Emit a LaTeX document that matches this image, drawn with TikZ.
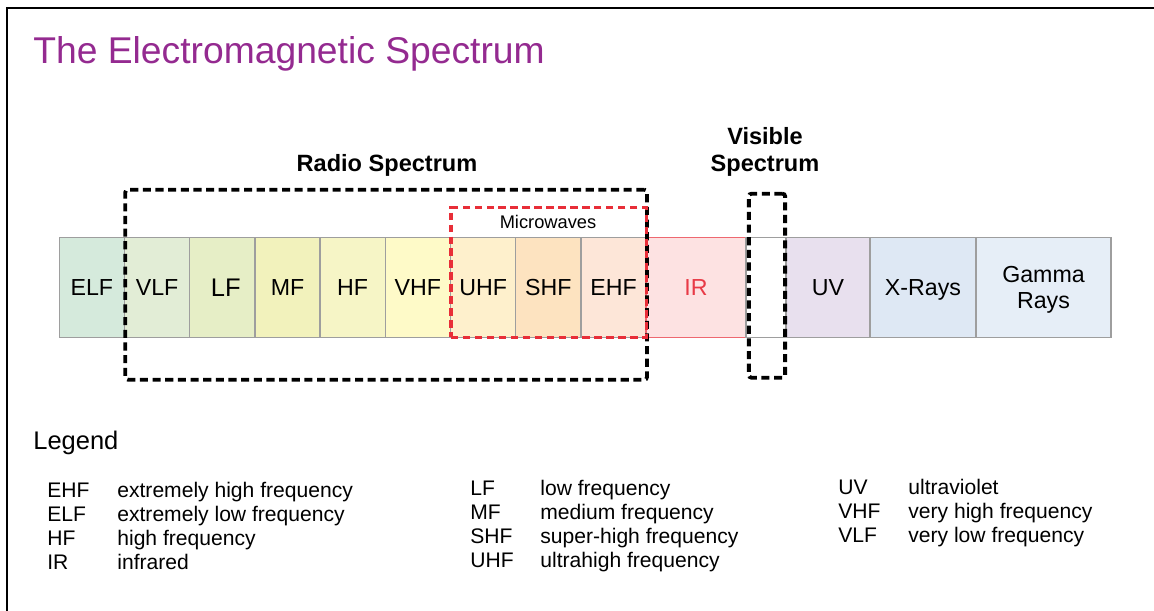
\documentclass[tikz,border=0pt]{standalone}
\usepackage{fontspec}
\setmainfont{Liberation Sans}
\usepackage{xcolor}
\usepackage{tikz}
\definecolor{titlepurple}{RGB}{148,42,144}
\definecolor{cellgray}{RGB}{158,158,158}
\definecolor{irline}{RGB}{238,104,112}
\definecolor{irtext}{RGB}{232,58,70}
\definecolor{mwred}{RGB}{232,46,56}
\definecolor{fillelf}{RGB}{213,234,220}
\definecolor{fillvlf}{RGB}{226,237,214}
\definecolor{filllf}{RGB}{230,238,198}
\definecolor{fillmf}{RGB}{242,242,188}
\definecolor{fillhf}{RGB}{246,245,198}
\definecolor{fillvhf}{RGB}{254,250,200}
\definecolor{filluhf}{RGB}{254,240,204}
\definecolor{fillshf}{RGB}{253,227,192}
\definecolor{fillehf}{RGB}{253,230,216}
\definecolor{fillir}{RGB}{253,226,226}
\definecolor{filluv}{RGB}{232,224,238}
\definecolor{fillxray}{RGB}{222,232,244}
\definecolor{fillgamma}{RGB}{230,238,247}
\tikzset{
  frame/.style={draw=black, line width=1.3pt},
  title/.style={anchor=base west, inner sep=0pt, text=titlepurple,
    font=\fontsize{21.2}{25}\selectfont},
  cell/.style={rectangle, draw=cellgray, minimum width=1.304cm,
    minimum height=2cm, inner sep=0pt, align=center,
    font=\fontsize{13.2}{14.8}\selectfont, line width=0.7pt},
  bandbox/.style={rectangle, draw=black, line width=2.2pt, inner sep=0pt,
    dash pattern=on 4.6pt off 2.6pt, rounded corners=1.5pt},
  mwbox/.style={rectangle, draw=mwred, line width=1.9pt, inner sep=0pt,
    dash pattern=on 4.2pt off 2.6pt},
  bandlabel/.style={align=center, inner sep=0pt,
    font=\fontsize{13.4}{15.4}\selectfont\bfseries},
  abbr/.style={anchor=base west, inner sep=0pt,
    font=\fontsize{12}{14}\selectfont}
}
\begin{document}
\begin{tikzpicture}
  \useasboundingbox (0,0) rectangle (23.08,12.22);
  \draw[frame] (0.14,0) -- (0.14,12.06) -- (23.08,12.06);

  \node[title] (title) at (0.66,10.95) {The Electromagnetic Spectrum};

  % the bands, low to high frequency
  \node[cell, fill=fillelf] (elf) at (1.838,6.47) {ELF};
  \node[cell, fill=fillvlf] (vlf) at (3.142,6.47) {VLF};
  \node[cell, fill=filllf, font=\fontsize{14.5}{16}\selectfont] (lf) at (4.446,6.47) {\hspace*{0.14cm}LF};
  \node[cell, fill=fillmf] (mf) at (5.750,6.47) {MF};
  \node[cell, fill=fillhf] (hf) at (7.054,6.47) {HF};
  \node[cell, fill=fillvhf] (vhf) at (8.358,6.47) {VHF};
  \node[cell, fill=filluhf] (uhf) at (9.662,6.47) {UHF};
  \node[cell, fill=fillshf] (shf) at (10.966,6.47) {SHF};
  \node[cell, fill=fillehf] (ehf) at (12.270,6.47) {EHF};
  \node[cell, fill=fillir, draw=irline, text=irtext, minimum width=2cm] (ir) at (13.92,6.47) {IR};
  \node[cell, fill=white, minimum width=0.8cm] (vis) at (15.32,6.47) {};
  \node[cell, fill=filluv, minimum width=1.68cm] (uv) at (16.56,6.47) {UV};
  \node[cell, fill=fillxray, minimum width=2.12cm, text depth=0pt] (xray) at (18.46,6.47) {X-Rays};
  \node[cell, fill=fillgamma, minimum width=2.7cm, text depth=0pt] (gamma) at (20.87,6.47) {Gamma\\Rays};

  % dashed groupings
  \node[bandbox, minimum width=10.434cm, minimum height=3.8cm] (radio) at (7.723,6.526) {};
  \node[mwbox, minimum width=3.914cm, minimum height=2.59cm] (micro) at (10.977,6.77) {};
  \node[bandbox, minimum width=0.726cm, minimum height=3.68cm] (visbox) at (15.34,6.506) {};

  \node[bandlabel] (radiolbl) at (7.74,8.92) {Radio Spectrum};
  \node[bandlabel] (vislbl) at (15.3,9.18) {Visible\\Spectrum};
  \node[inner sep=0pt, font=\fontsize{10.4}{12}\selectfont] (microlbl) at (10.96,7.78) {Microwaves};

  % legend
  \node[abbr, font=\fontsize{14.5}{17}\selectfont] (legend) at (0.66,3.23) {Legend};

  \node[abbr] (k1) at (0.94,2.274) {EHF};
  \node[abbr] (d1) at (2.34,2.274) {extremely high frequency};
  \node[abbr] (k2) at (0.94,1.794) {ELF};
  \node[abbr] (d2) at (2.34,1.794) {extremely low frequency};
  \node[abbr] (k3) at (0.94,1.314) {HF};
  \node[abbr] (d3) at (2.34,1.314) {high frequency};
  \node[abbr] (k4) at (0.94,0.834) {IR};
  \node[abbr] (d4) at (2.34,0.834) {infrared};

  \node[abbr] (k5) at (9.4,2.30) {LF};
  \node[abbr] (d5) at (10.8,2.30) {low frequency};
  \node[abbr] (k6) at (9.4,1.82) {MF};
  \node[abbr] (d6) at (10.8,1.82) {medium frequency};
  \node[abbr] (k7) at (9.4,1.34) {SHF};
  \node[abbr] (d7) at (10.8,1.34) {super-high frequency};
  \node[abbr] (k8) at (9.4,0.86) {UHF};
  \node[abbr] (d8) at (10.8,0.86) {ultrahigh frequency};

  \node[abbr] (k9) at (16.76,2.32) {UV};
  \node[abbr] (d9) at (18.16,2.32) {ultraviolet};
  \node[abbr] (k10) at (16.76,1.84) {VHF};
  \node[abbr] (d10) at (18.16,1.84) {very high frequency};
  \node[abbr] (k11) at (16.76,1.36) {VLF};
  \node[abbr] (d11) at (18.16,1.36) {very low frequency};
\end{tikzpicture}
\end{document}
